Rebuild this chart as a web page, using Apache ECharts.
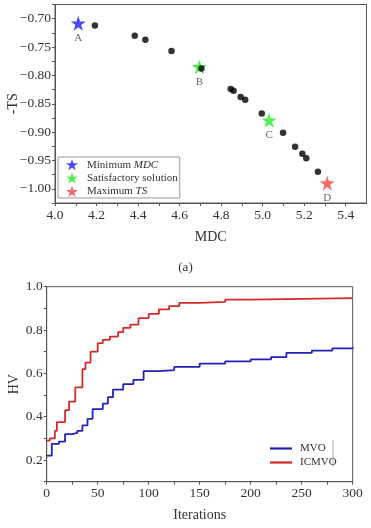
<!DOCTYPE html>
<html><head><meta charset="utf-8">
<script src="https://cdn.jsdelivr.net/npm/echarts@6/dist/echarts.min.js"></script>
<style>html,body{margin:0;padding:0;background:#fff}#c{width:371px;height:528px}</style>
</head><body><div id="c"></div>
<script>
// ---- Top chart (a): Pareto front ----
var paretoMDC = [4.192, 4.384, 4.435, 4.561, 4.705, 4.846, 4.860, 4.894, 4.916, 4.996, 5.098, 5.156, 5.191, 5.210, 5.266];
var paretoTS  = [-0.712, -0.730, -0.737, -0.757, -0.788, -0.824, -0.827, -0.838, -0.843, -0.867, -0.901, -0.926, -0.938, -0.946, -0.970];
var minMDC = [[4.112, -0.708]];
var satisfactory = [[4.695, -0.785], [5.031, -0.879]];
var maxTS = [[5.311, -0.990]];
var minMDCLabels = ['A'];
var satisfactoryLabels = ['B', 'C'];
var maxTSLabels = ['D'];
var topXTicks = [4.0, 4.2, 4.4, 4.6, 4.8, 5.0, 5.2, 5.4];
var topYTicks = [-1.00, -0.95, -0.90, -0.85, -0.80, -0.75, -0.70];

// ---- Bottom chart: HV convergence ----
var mvoIter = [0, 5, 12, 18, 25, 30, 35, 40, 45, 55, 60, 65, 75, 85, 95, 110, 125, 150, 175, 200, 220, 235, 260, 280, 300];
var mvoHV   = [0.22, 0.275, 0.285, 0.32, 0.325, 0.335, 0.36, 0.39, 0.435, 0.46, 0.49, 0.525, 0.55, 0.57, 0.61, 0.615, 0.63, 0.645, 0.655, 0.665, 0.675, 0.695, 0.705, 0.715, 0.72];
var icmvoIter = [0, 3, 8, 10, 18, 22, 28, 35, 38, 43, 50, 55, 62, 70, 75, 82, 90, 100, 110, 120, 130, 150, 175, 200, 300];
var icmvoHV   = [0.29, 0.30, 0.335, 0.375, 0.43, 0.47, 0.535, 0.62, 0.65, 0.70, 0.74, 0.755, 0.77, 0.79, 0.81, 0.825, 0.855, 0.875, 0.895, 0.91, 0.925, 0.93, 0.94, 0.947, 0.948];
var botXTicks = [0, 50, 100, 150, 200, 250, 300];
var botYTicks = [0.2, 0.4, 0.6, 0.8, 1.0];

function zip(a, b) { return a.map(function (v, i) { return [v, b[i]]; }); }
function named(pts, names) { return pts.map(function (p, i) { return { value: p, name: names[i] }; }); }

var STAR = 'path://M50,0 L61.8,35.1 L98.8,35.1 L68.8,56.9 L80.3,92.1 L50,70.4 L19.7,92.1 L31.2,56.9 L1.2,35.1 L38.2,35.1 Z';
var FONT = '"Liberation Serif","DejaVu Serif",serif';
var AX = '#555';
var TICKFS = 13.5;

function has(arr, v) { for (var i = 0; i < arr.length; i++) if (Math.abs(arr[i] - v) < 1e-6) return true; return false; }
function minusFmt(v, d) { return (v < 0 ? '\u2212' : '') + Math.abs(v).toFixed(d); }

var chart = echarts.init(document.getElementById('c'));
var starLabel = { show: true, position: 'bottom', distance: 2, formatter: '{b}', color: '#444', fontFamily: FONT, fontSize: 11 };

chart.setOption({
  animation: false,
  textStyle: { fontFamily: FONT },
  grid: [
    { left: 55, top: 4.5, width: 311.5, height: 198.5, show: true, borderColor: AX, borderWidth: 1, backgroundColor: 'transparent', containLabel: false, outerBoundsMode: 'none' },
    { left: 46.7, top: 286.7, width: 306, height: 195, show: true, borderColor: AX, borderWidth: 1, backgroundColor: 'transparent', containLabel: false, outerBoundsMode: 'none' }
  ],
  xAxis: [
    { gridIndex: 0, type: 'value', min: 4.0, max: 5.5, interval: 0.1, name: 'MDC', nameLocation: 'middle', nameGap: 27, nameMoveOverlap: false,
      nameTextStyle: { fontFamily: FONT, fontSize: 14, color: '#333' },
      axisLine: { lineStyle: { color: AX } }, axisTick: { length: 3, lineStyle: { color: AX } },
      splitLine: { show: false },
      axisLabel: { fontFamily: FONT, fontSize: TICKFS, color: '#333', margin: 5, showMaxLabel: false, hideOverlap: false,
        formatter: function (v) { return has(topXTicks, v) ? v.toFixed(1) : ''; } } },
    { gridIndex: 1, type: 'value', min: 0, max: 300, interval: 25, name: 'Iterations', nameLocation: 'middle', nameGap: 27, nameMoveOverlap: false,
      nameTextStyle: { fontFamily: FONT, fontSize: 14, color: '#333' },
      axisLine: { lineStyle: { color: AX } }, axisTick: { length: 3, lineStyle: { color: AX } },
      splitLine: { show: false },
      axisLabel: { fontFamily: FONT, fontSize: TICKFS, color: '#333', margin: 5, hideOverlap: false,
        formatter: function (v) { return has(botXTicks, v) ? String(v) : ''; } } }
  ],
  yAxis: [
    { gridIndex: 0, type: 'value', min: -1.025, max: -0.675, interval: 0.025, name: '-TS', nameLocation: 'middle', nameGap: 35, nameRotate: 90, nameMoveOverlap: false,
      nameTextStyle: { fontFamily: FONT, fontSize: 14, color: '#333' },
      axisLine: { lineStyle: { color: AX } }, axisTick: { length: 3, lineStyle: { color: AX } },
      splitLine: { show: false },
      axisLabel: { fontFamily: FONT, fontSize: TICKFS, color: '#333', margin: 4, hideOverlap: false,
        formatter: function (v) { return has(topYTicks, v) ? minusFmt(v, 2) : ''; } } },
    { gridIndex: 1, type: 'value', min: 0.1, max: 1.0, interval: 0.1, name: 'HV', nameLocation: 'middle', nameGap: 25, nameRotate: 90, nameMoveOverlap: false,
      nameTextStyle: { fontFamily: FONT, fontSize: 14, color: '#333' },
      axisLine: { lineStyle: { color: AX } }, axisTick: { length: 3, lineStyle: { color: AX } },
      splitLine: { show: false },
      axisLabel: { fontFamily: FONT, fontSize: TICKFS, color: '#333', margin: 4, hideOverlap: false,
        formatter: function (v) { return has(botYTicks, v) ? v.toFixed(1) : ''; } } }
  ],
  legend: [
    { data: ['Minimum MDC', 'Satisfactory solution', 'Maximum TS'], orient: 'vertical', left: 58, top: 157,
      itemWidth: 12, itemHeight: 12, itemGap: 2, padding: [2, 2, 1, 8], borderColor: '#999', borderWidth: 1,
      backgroundColor: '#fff',
      textStyle: { fontFamily: FONT, fontSize: 11, color: '#333', padding: [0, 0, 0, 4],
        rich: { i: { fontFamily: FONT, fontSize: 11, fontStyle: 'italic', color: '#333' } } },
      formatter: function (n) {
        if (n === 'Minimum MDC') return 'Minimum {i|MDC}';
        if (n === 'Maximum TS') return 'Maximum {i|TS}';
        return n;
      } },
    { data: ['MVO', 'ICMVO'], orient: 'vertical', left: 265, top: 438, icon: 'rect', itemWidth: 22, itemHeight: 2.2, itemGap: 3,
      textStyle: { fontFamily: FONT, fontSize: 11, color: '#333', padding: [0, 0, 0, 3] } }
  ],
  graphic: [
    { type: 'text', left: 'center', top: 261, style: { text: '(a)', font: '13px ' + FONT, fill: '#333' } },
    { type: 'line', shape: { x1: 333, y1: 440, x2: 333, y2: 467 }, style: { stroke: '#aaa', lineWidth: 1 } }
  ],
  series: [
    { name: 'Minimum MDC', type: 'scatter', xAxisIndex: 0, yAxisIndex: 0, symbol: STAR, symbolSize: 15,
      itemStyle: { color: '#1a1aff' }, data: named(minMDC, minMDCLabels), label: starLabel, z: 3 },
    { name: 'Satisfactory solution', type: 'scatter', xAxisIndex: 0, yAxisIndex: 0, symbol: STAR, symbolSize: 15,
      itemStyle: { color: '#22ee22' }, data: named(satisfactory, satisfactoryLabels), label: starLabel, z: 3 },
    { name: 'Maximum TS', type: 'scatter', xAxisIndex: 0, yAxisIndex: 0, symbol: STAR, symbolSize: 15,
      itemStyle: { color: '#f04545' }, data: named(maxTS, maxTSLabels), label: starLabel, z: 3 },
    { name: 'Pareto', type: 'scatter', xAxisIndex: 0, yAxisIndex: 0, symbol: 'circle', symbolSize: 6.5,
      itemStyle: { color: '#000' }, data: zip(paretoMDC, paretoTS), z: 4 },
    { name: 'MVO', type: 'line', xAxisIndex: 1, yAxisIndex: 1, step: 'end', showSymbol: false, symbol: 'none',
      lineStyle: { color: '#2222bb', width: 1.8 }, itemStyle: { color: '#2222bb' }, data: zip(mvoIter, mvoHV) },
    { name: 'ICMVO', type: 'line', xAxisIndex: 1, yAxisIndex: 1, step: 'end', showSymbol: false, symbol: 'none',
      lineStyle: { color: '#d42a2a', width: 1.8 }, itemStyle: { color: '#d42a2a' }, data: zip(icmvoIter, icmvoHV) }
  ]
});
</script>
</body></html>
